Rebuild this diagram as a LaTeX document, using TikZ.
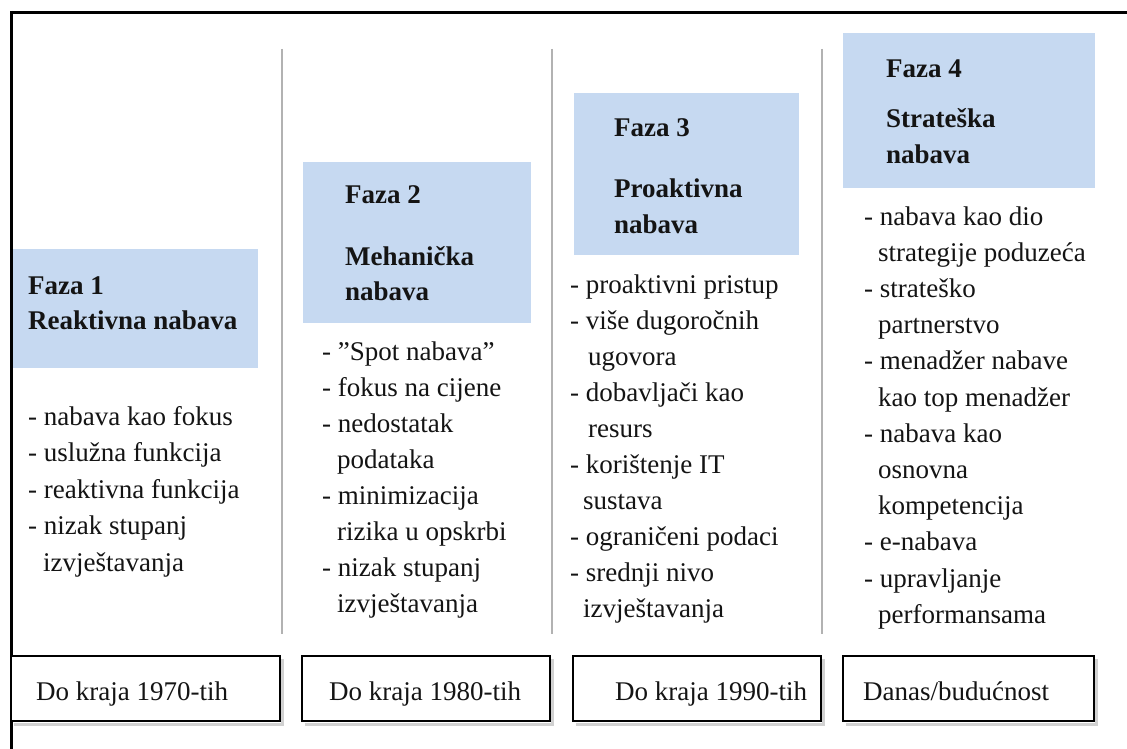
\documentclass[tikz,border=0pt]{standalone}
\usepackage{fontspec}
\setmainfont{Liberation Serif}
\definecolor{phase}{RGB}{198,217,241}
\definecolor{sepgray}{RGB}{178,178,178}
\definecolor{ink}{RGB}{20,20,20}
\begin{document}
\begin{tikzpicture}[x=1pt,y=-1pt,
  txt/.style={anchor=base west,inner sep=0pt,text=ink,font=\fontsize{27}{33}\selectfont},
  head/.style={anchor=base west,inner sep=0pt,text=ink,font=\fontsize{27}{33}\selectfont\bfseries},
  phasebox/.style={fill=phase,draw=none},
  datebox/.style={draw=black,line width=2.8pt,fill=white},
  boxshadow/.style={draw=black!18,line width=3pt},
  sepline/.style={draw=sepgray,line width=1.6pt},
  frameline/.style={draw=black,line width=3pt}]
\useasboundingbox (0,0) rectangle (1127,749);
\fill[white] (0,0) rectangle (1127,749);
% frame
\draw[frameline] (11,12.5) -- (1127,12.5);
\draw[frameline] (11.3,11) -- (11.3,749);
% separators
\draw[sepline] (282,49) -- (282,634);
\draw[sepline] (552,49) -- (552,634);
\draw[sepline] (822,49) -- (822,634);
% phase boxes
\path[phasebox] (13,249) rectangle (258,368);
\path[phasebox] (303,162) rectangle (531,323);
\path[phasebox] (574,93) rectangle (799,255);
\path[phasebox] (843,33) rectangle (1095,188);
% headers
\node[head] (h1a) at (28,294) {Faza 1};
\node[head] (h1b) at (28,329) {Reaktivna nabava};
\node[head] (h2a) at (345,203) {Faza 2};
\node[head] (h2b) at (345,265) {Mehanička};
\node[head] (h2c) at (345,300) {nabava};
\node[head] (h3a) at (614,136) {Faza 3};
\node[head] (h3b) at (614,197) {Proaktivna};
\node[head] (h3c) at (614,233) {nabava};
\node[head] (h4a) at (886,78) {Faza 4};
\node[head] (h4b) at (886,128) {Strateška};
\node[head] (h4c) at (886,164) {nabava};
% lists
\foreach \dx/\t [count=\i] in {0/- nabava kao fokus, 0/- uslužna funkcija, 0/- reaktivna funkcija, 0/- nizak stupanj, 15/izvještavanja}
  \node[txt] (la\i) at ({28+\dx},{425+36.5*(\i-1)}) {\t};
\foreach \dx/\t [count=\i] in {0/- ”Spot nabava”, 0/- fokus na cijene, 0/- nedostatak, 15/podataka, 0/- minimizacija, 15/rizika u opskrbi, 0/- nizak stupanj, 15/izvještavanja}
  \node[txt] (lb\i) at ({322+\dx},{360+36.1*(\i-1)}) {\t};
\foreach \dx/\t [count=\i] in {0/- proaktivni pristup, 0/- više dugoročnih, 18/ugovora, 0/- dobavljači kao, 18/resurs, 0/- korištenje IT, 13/sustava, 0/- ograničeni podaci, 0/- srednji nivo, 13/izvještavanja}
  \node[txt] (lc\i) at ({570+\dx},{293+36.1*(\i-1)}) {\t};
\foreach \dx/\t [count=\i] in {0/- nabava kao dio, 14/strategije poduzeća, 0/- strateško, 14/partnerstvo, 0/- menadžer nabave, 14/kao top menadžer, 0/- nabava kao, 14/osnovna, 14/kompetencija, 0/- e-nabava, 0/- upravljanje, 14/performansama}
  \node[txt] (ld\i) at ({864+\dx},{225+36.2*(\i-1)}) {\t};
% date boxes
\foreach \a/\b in {11/280, 302/550, 573/821, 843/1094}{
  \draw[boxshadow] (\a+3,724.5) -- (\b+2.5,724.5) -- (\b+2.5,659);
  \draw[datebox] (\a,656) rectangle (\b,721);
}
\node[txt] (d1) at (36,700) {Do kraja 1970-tih};
\node[txt] (d2) at (329,700) {Do kraja 1980-tih};
\node[txt] (d3) at (615,700) {Do kraja 1990-tih};
\node[txt] (d4) at (863,700) {Danas/budućnost};
\end{tikzpicture}
\end{document}
